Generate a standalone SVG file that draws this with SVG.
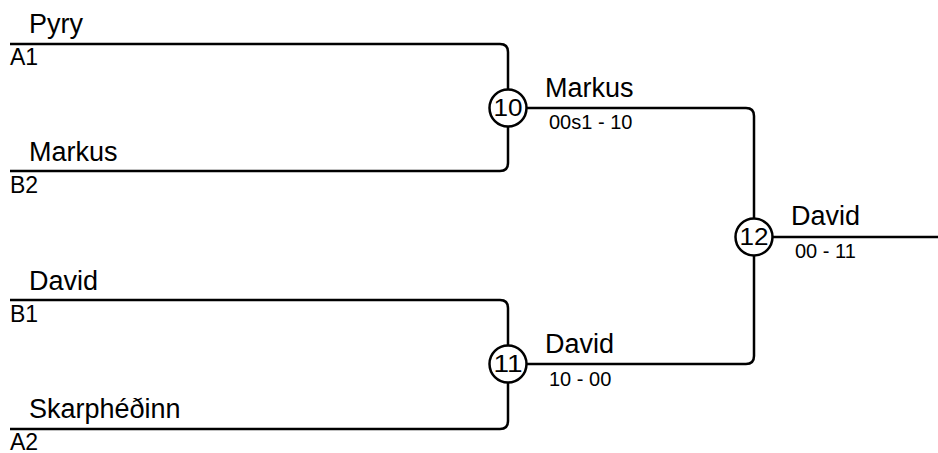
<svg xmlns="http://www.w3.org/2000/svg" width="938" height="453" viewBox="0 0 938 453">
<style>
.ln{fill:none;stroke:#000;stroke-width:2.5}
.c{fill:#fff;stroke:#000;stroke-width:2.5}
.nm{font-family:"Liberation Sans",Arial,sans-serif;font-size:27px;fill:#000}
.sd{font-family:"Liberation Sans",Arial,sans-serif;font-size:23px;fill:#000}
.sc{font-family:"Liberation Sans",Arial,sans-serif;font-size:20px;fill:#000}
.cn{font-family:"Liberation Sans",Arial,sans-serif;font-size:23px;fill:#000;text-anchor:middle}
</style>
<rect width="938" height="453" fill="#fff"/>
<g id="connectors">
<path class="ln" d="M10 44 H500 Q508 44 508 52 V89"/>
<path class="ln" d="M508 127 V163 Q508 171 500 171 H10"/>
<path class="ln" d="M10 300 H500 Q508 300 508 308 V345"/>
<path class="ln" d="M508 383 V421 Q508 429 500 429 H10"/>
<path class="ln" d="M527 108 H746 Q754 108 754 116 V218"/>
<path class="ln" d="M527 364 H746 Q754 364 754 356 V256"/>
<path class="ln" d="M773 237 H938"/>
</g>
<g id="p1"><text class="nm" x="29" y="33">Pyry</text><text class="sd" x="10" y="65">A1</text></g>
<g id="p2"><text class="nm" x="29" y="161">Markus</text><text class="sd" x="10" y="193">B2</text></g>
<g id="p3"><text class="nm" x="29" y="290">David</text><text class="sd" x="10" y="322">B1</text></g>
<g id="p4"><text class="nm" x="29" y="418">Skarphéðinn</text><text class="sd" x="10" y="450">A2</text></g>
<g id="m10"><circle class="c" cx="508" cy="108" r="18.5"/><text class="cn" x="508" y="116" textLength="29" lengthAdjust="spacingAndGlyphs">10</text></g>
<g id="m11"><circle class="c" cx="508" cy="364" r="18.5"/><text class="cn" x="508" y="372" textLength="29" lengthAdjust="spacingAndGlyphs">11</text></g>
<g id="m12"><circle class="c" cx="754" cy="237" r="18.5"/><text class="cn" x="754" y="245" textLength="29" lengthAdjust="spacingAndGlyphs">12</text></g>
<g id="w10"><text class="nm" x="545" y="97">Markus</text><text class="sc" x="549" y="129">00s1 - 10</text></g>
<g id="w11"><text class="nm" x="545" y="353">David</text><text class="sc" x="549" y="386">10 - 00</text></g>
<g id="w12"><text class="nm" x="791" y="225">David</text><text class="sc" x="795" y="258">00 - 11</text></g>
</svg>
